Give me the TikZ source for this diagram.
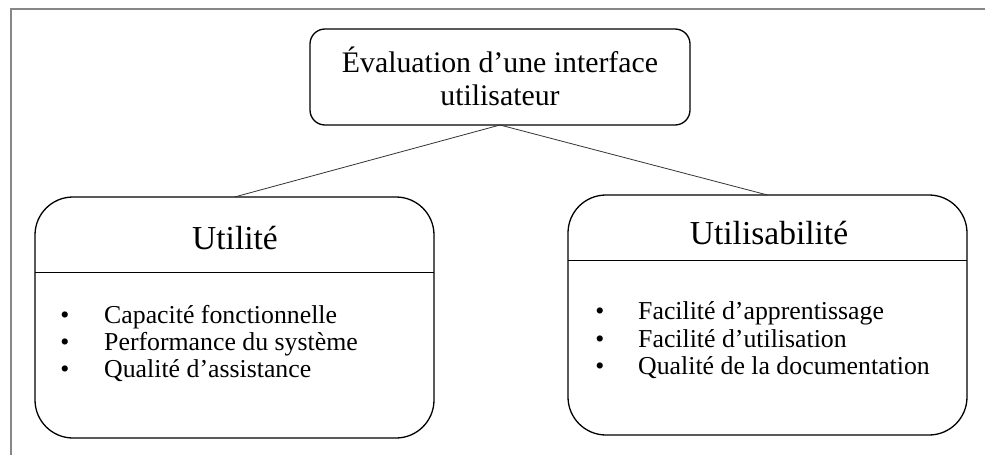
\documentclass[tikz,border=0pt]{standalone}
\usepackage{fontspec}
\setmainfont{Liberation Serif}
\begin{document}
\begin{tikzpicture}[x=1pt,y=-1pt,
  frameline/.style={draw=black!47, line width=1.6pt},
  box/.style={draw=black, line width=1.3pt, rounded corners=#1, inner sep=0pt, outer sep=0pt},
  sepline/.style={draw=black, line width=1pt},
  link/.style={draw=black!80, line width=0.8pt},
  titletxt/.style={inner sep=0pt, anchor=base, font=\fontsize{29.8}{33}\selectfont},
  headtxt/.style={inner sep=0pt, anchor=base, font=\fontsize{33.5}{36}\selectfont},
  itemtxt/.style={inner sep=0pt, anchor=base west, font=\fontsize{25.8}{27}\selectfont},
  bul/.style={inner sep=0pt, anchor=base, font=\fontsize{25.8}{27}\selectfont}]
\useasboundingbox (0,0) rectangle (985,455);
% outer frame (partially visible)
\coordinate (fb) at (11,456);
\coordinate (fc) at (11,8.7);
\coordinate (fr) at (986,8.7);
\draw[frameline] (fb) -- (fc) -- (fr);
% top box
\node[box=15pt, minimum width=380pt, minimum height=96pt] (top) at (500,77) {};
\node[titletxt] (t1) at (500,72) {Évaluation d’une interface};
\node[titletxt] (t2) at (500,105) {utilisateur};
% left box
\node[box=38pt, minimum width=399pt, minimum height=241pt] (lbox) at (234.5,317.5) {};
\draw[sepline] (lbox.west |- 0,272) -- (lbox.east |- 0,272);
\node[headtxt] (lh) at (235,249) {Utilité};
\node[bul] (lb1) at (65,323) {•};
\node[bul] (lb2) at (65,350) {•};
\node[bul] (lb3) at (65,377) {•};
\node[itemtxt] (li1) at (104,323) {Capacité fonctionnelle};
\node[itemtxt] (li2) at (104,350) {Performance du système};
\node[itemtxt] (li3) at (104,377) {Qualité d’assistance};
% right box
\node[box=38pt, minimum width=399pt, minimum height=240pt] (rbox) at (767.5,315) {};
\draw[sepline] (rbox.west |- 0,260) -- (rbox.east |- 0,260);
\node[headtxt] (rh) at (769,244) {Utilisabilité};
\node[bul] (rb1) at (600,319) {•};
\node[bul] (rb2) at (600,347) {•};
\node[bul] (rb3) at (600,374) {•};
\node[itemtxt] (ri1) at (638,319) {Facilité d’apprentissage};
\node[itemtxt] (ri2) at (638,347) {Facilité d’utilisation};
\node[itemtxt] (ri3) at (638,374) {Qualité de la documentation};
% connectors
\draw[link] (top.south) -- (lbox.north);
\draw[link] (top.south) -- (rbox.north);
\end{tikzpicture}
\end{document}
